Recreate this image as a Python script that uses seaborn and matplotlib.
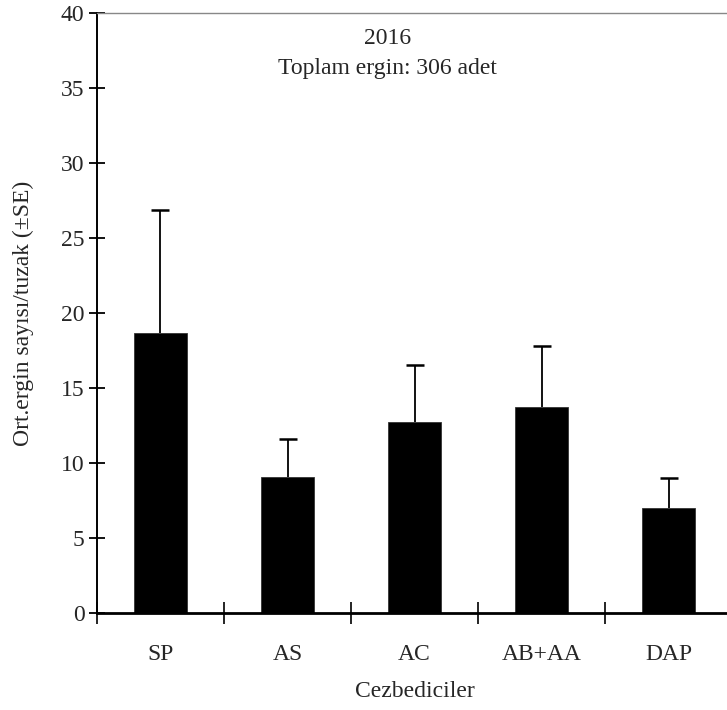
import matplotlib
matplotlib.use("Agg")
import matplotlib.pyplot as plt
import seaborn as sns
import numpy as np
import pandas as pd

categories = ["SP", "AS", "AC", "AB+AA", "DAP"]
means = [18.65, 9.05, 12.75, 13.75, 7.02]
se = [8.25, 2.53, 3.78, 4.07, 1.98]
yticks = [0, 5, 10, 15, 20, 25, 30, 35, 40]

sns.set_style("white")
plt.rcParams["font.family"] = ["Liberation Serif", "DejaVu Serif"]

FS = 17

df = pd.DataFrame({"cat": categories, "mean": means})

fig = plt.figure(figsize=(7.27, 7.10), dpi=100)
ax = fig.add_axes([0.1334, 0.1366, 0.8736, 0.845])

sns.barplot(data=df, x="cat", y="mean", color="black", width=0.42,
            saturation=1, ax=ax, errorbar=None, edgecolor="#333333", linewidth=0.6,
            zorder=2)

xpos = np.arange(len(categories))
tops = np.array(means) + np.array(se)
# upper-only error bars: stem + top cap
ax.vlines(xpos, means, tops, colors="black", linewidth=1.3, zorder=1)
ax.plot(xpos, tops, linestyle="none", marker="_", markersize=13,
        markeredgewidth=1.8, color="black", zorder=1)

ax.set_xlim(-0.5, len(categories) - 0.5)
ax.set_ylim(0, 40)
ax.set_yticks(yticks)
ax.set_yticklabels([str(t) for t in yticks], fontsize=FS)

# category boundaries as major ticks, labels on minor ticks
ax.set_xticks(xpos - 0.5)
ax.set_xticklabels([])
ax.set_xticks(xpos, minor=True)
ax.set_xticklabels(categories, minor=True, fontsize=FS)
ax.tick_params(axis="x", which="major", direction="inout", length=16, width=1.2, color="black", bottom=True)
ax.tick_params(axis="x", which="minor", length=0, pad=22)
ax.tick_params(axis="y", which="major", direction="inout", length=12, width=1.3, color="black", left=True, pad=3)

ax.spines["left"].set_color("black")
ax.spines["left"].set_linewidth(1.4)
ax.spines["bottom"].set_color("black")
ax.spines["bottom"].set_linewidth(2.0)
ax.spines["bottom"].set_zorder(3)
ax.spines["top"].set_color("#888888")
ax.spines["top"].set_linewidth(1.0)
ax.spines["right"].set_visible(False)

ax.set_xlabel("Cezbediciler", fontsize=FS, labelpad=12)
ax.set_ylabel("Ort.ergin sayısı/tuzak (±SE)", fontsize=FS, labelpad=19)

ax.text(0.457, 0.958, "2016", transform=ax.transAxes, ha="center", va="center", fontsize=FS)
ax.text(0.457, 0.908, "Toplam ergin: 306 adet", transform=ax.transAxes, ha="center", va="center", fontsize=FS)

fig.savefig("out.png", dpi=100)
